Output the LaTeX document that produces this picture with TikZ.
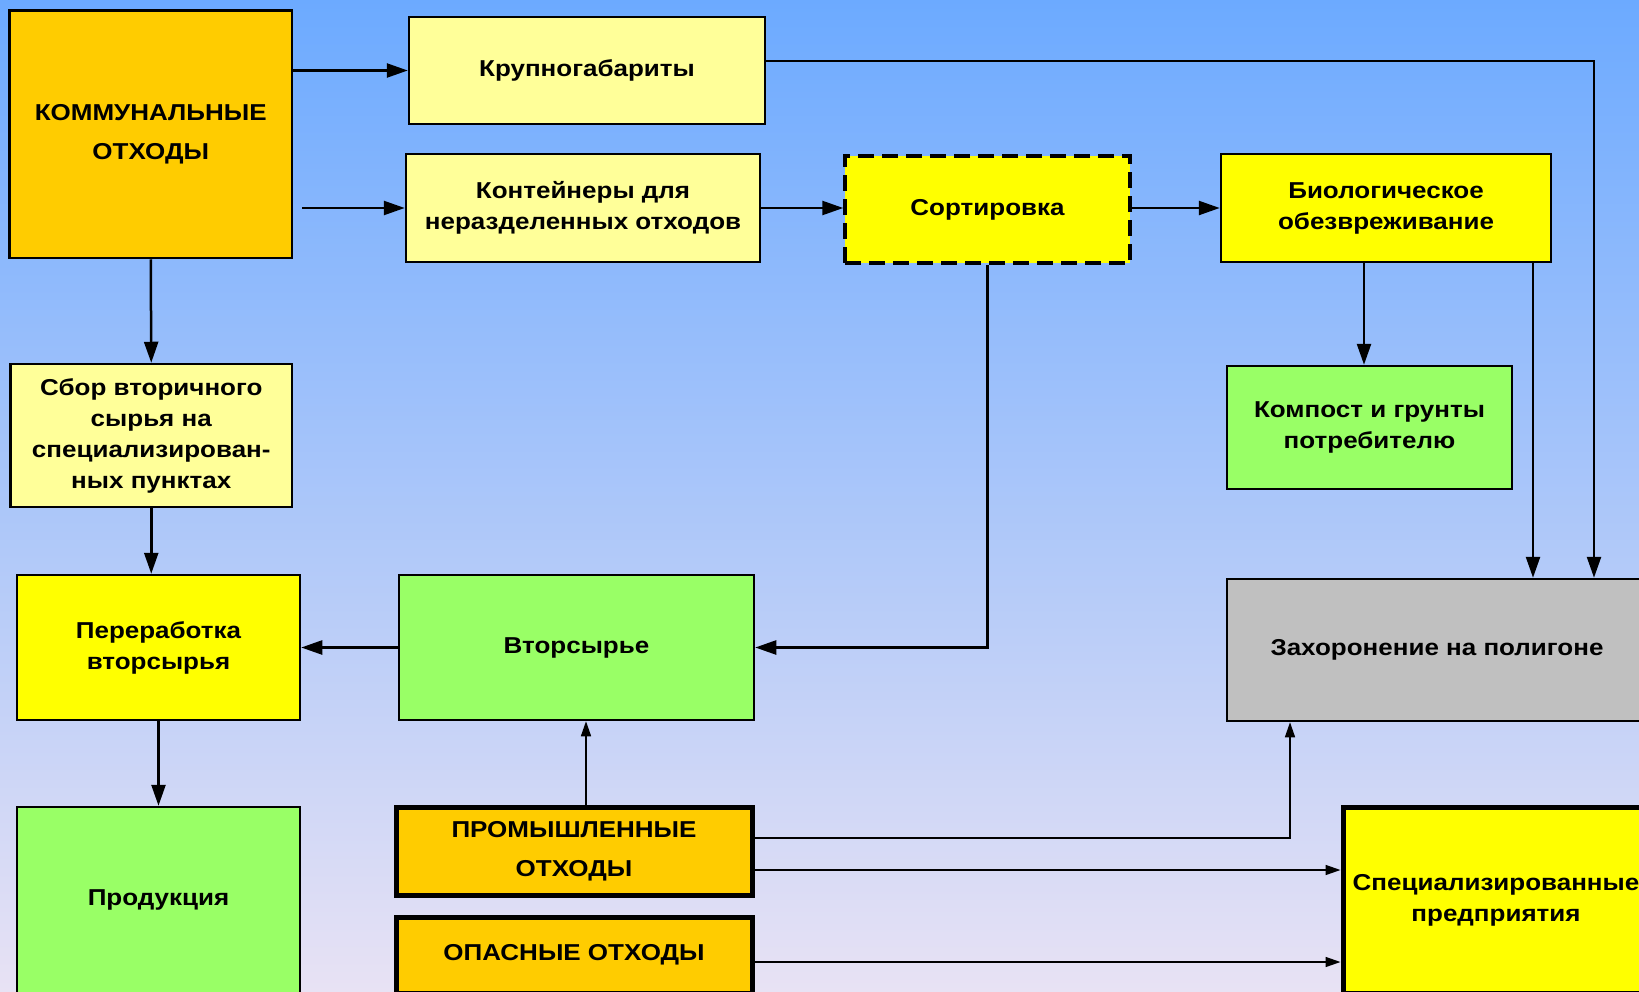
\documentclass[tikz,border=0pt]{standalone}
\usepackage{fontspec}
\setmainfont{Liberation Sans}[FakeStretch=1.13]
\usetikzlibrary{arrows.meta}
\definecolor{bgtop}{RGB}{108,170,255}
\definecolor{bgmid}{RGB}{163,201,243}
\definecolor{bgbot}{RGB}{232,226,244}
\definecolor{orangeY}{RGB}{255,204,0}
\definecolor{paleY}{RGB}{255,255,153}
\definecolor{brightY}{RGB}{255,255,0}
\definecolor{lgreen}{RGB}{153,255,102}
\definecolor{lgray}{RGB}{192,192,192}
\begin{document}
\begin{tikzpicture}[x=1pt,y=-1pt,
  box/.style={draw=black, line width=2.5pt, inner sep=0pt, align=center,
    font=\fontsize{23}{31}\selectfont\bfseries},
  widebox/.style={box, font=\fontsize{23}{39}\selectfont\bfseries},
  heavybox/.style={line width=5pt},
  dashbox/.style={line width=3.5pt, dash pattern=on 16pt off 8pt},
  thickarrow/.style={draw=black, line width=2.5pt, -{Triangle[length=21pt,width=14pt]}},
  thinarrow/.style={draw=black, line width=1.5pt, -{Triangle[length=15pt,width=10pt]}}
]
\useasboundingbox (0,0) rectangle (1639,991);
\clip (0,0) rectangle (1639,991);
\shade[top color=bgtop, middle color=bgmid, bottom color=bgbot] (0,0) rectangle (1639,991);

% nodes
\node[widebox, fill=orangeY, minimum width=282.5pt, minimum height=247.3pt] (komm) at (150.75,134.35) {КОММУНАЛЬНЫЕ\\ОТХОДЫ};
\node[box, fill=paleY, minimum width=356pt, minimum height=107pt] (krup) at (587,70.5) {Крупногабариты};
\node[box, fill=paleY, minimum width=354pt, minimum height=108pt] (kont) at (583,208) {Контейнеры для\\неразделенных отходов};
\node[box, dashbox, fill=brightY, minimum width=285pt, minimum height=107pt] (sort) at (987.5,209.5) {Сортировка};
\node[box, fill=brightY, minimum width=330pt, minimum height=108pt] (bio) at (1386,208) {Биологическое\\обезвреживание};
\node[box, fill=lgreen, minimum width=285pt, minimum height=123pt] (komp) at (1369.5,427.5) {Компост и грунты\\потребителю};
\node[box, fill=paleY, minimum width=281.5pt, minimum height=143pt] (sbor) at (151.25,435.5) {Сбор вторичного\\сырья на\\специализирован-\\ных пунктах};
\node[box, fill=brightY, minimum width=283pt, minimum height=145pt] (perer) at (158.5,647.5) {Переработка\\вторсырья};
\node[box, fill=lgreen, minimum width=355pt, minimum height=145pt] (vtor) at (576.5,647.5) {Вторсырье};
\node[box, fill=lgreen, minimum width=283pt, minimum height=186pt] (prod) at (158.5,900) {Продукция};
\node[box, fill=lgray, minimum width=420pt, minimum height=142pt] (zah) at (1437,650) {Захоронение на полигоне};
\node[widebox, heavybox, fill=orangeY, minimum width=356pt, minimum height=88pt] (prom) at (574,851) {ПРОМЫШЛЕННЫЕ\\ОТХОДЫ};
\node[box, heavybox, fill=orangeY, minimum width=356pt, minimum height=76pt] (opas) at (574,955) {ОПАСНЫЕ ОТХОДЫ};
\node[box, heavybox, fill=brightY, minimum width=306pt, minimum height=186pt] (spec) at (1496,900) {Специализированные\\предприятия};

% helper coordinates
\coordinate (c1) at (1594,61);
\coordinate (c2) at (1364,0);
\coordinate (c3) at (1533,0);
\coordinate (c4) at (586,0);
\coordinate (c5) at (1290,838);
\coordinate (c6) at (0,870);
\coordinate (c7) at (0,962);

% thick connectors
\draw[thickarrow] (komm.east|-krup.west) -- (krup.west);
\draw[thickarrow, shorten <=9pt] (komm.east|-kont.west) -- (kont.west);
\draw[thickarrow] (komm.south) -- (sbor.north);
\draw[thickarrow] (krup.east|-c1) -- (c1) -- (c1|-zah.north);
\draw[thickarrow] (kont.east) -- (sort.west|-kont.east);
\draw[thickarrow] (sort.east|-bio.west) -- (bio.west);
\draw[thickarrow] (c2|-bio.south) -- (c2|-komp.north);
\draw[thickarrow] (c3|-bio.south) -- (c3|-zah.north);
\draw[thickarrow] (sort.south) |- (vtor.east);
\draw[thickarrow] (vtor.west) -- (perer.east);
\draw[thickarrow] (sbor.south) -- (sbor.south|-perer.north);
\draw[thickarrow] (perer.south) -- (prod.north);

% thin connectors
\draw[thinarrow] (c4|-prom.north) -- (c4|-vtor.south);
\draw[thinarrow] (prom.east|-c5) -- (c5) -- (c5|-zah.south);
\draw[thinarrow] (prom.east|-c6) -- (spec.west|-c6);
\draw[thinarrow] (opas.east|-c7) -- (spec.west|-c7);
\end{tikzpicture}
\end{document}
